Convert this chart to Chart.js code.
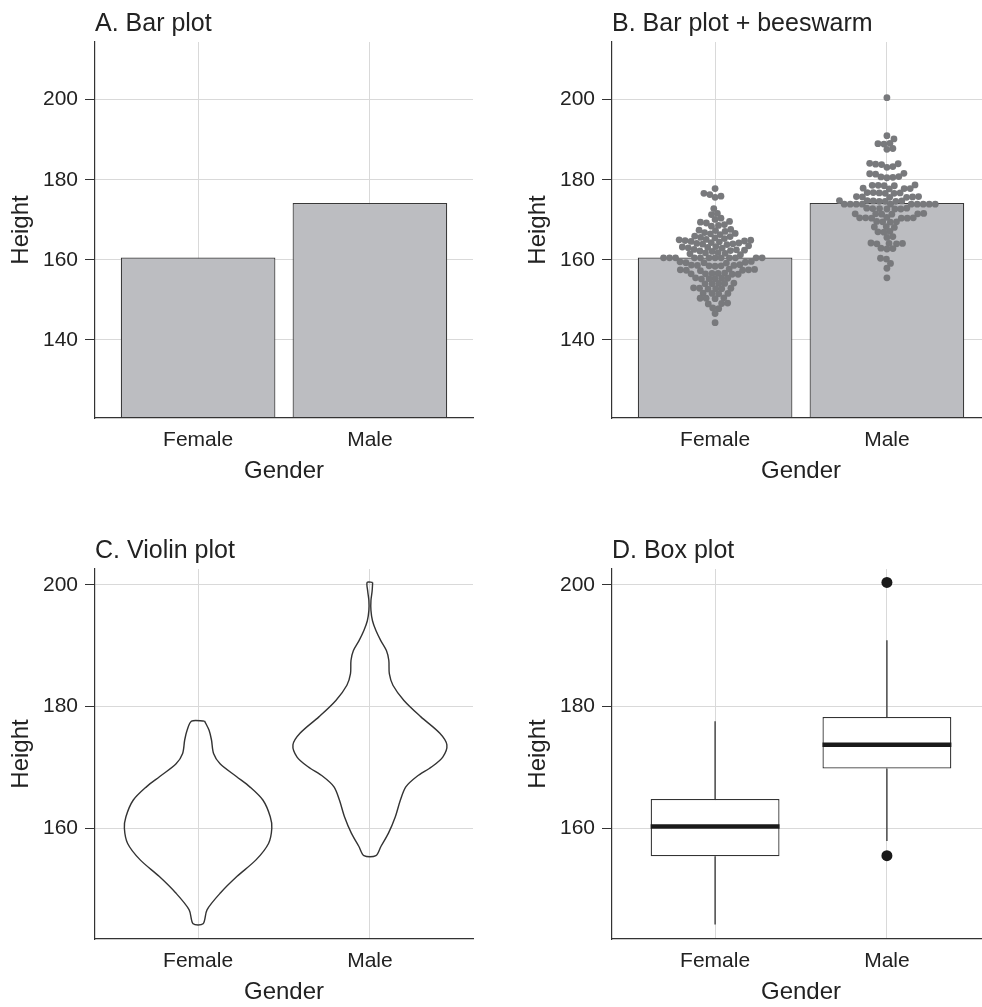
<!DOCTYPE html>
<html lang="en">
<head>
<meta charset="UTF-8">
<title>Height by gender</title>
<script src="https://cdn.jsdelivr.net/npm/chart.js"></script>
<style>
  html, body { margin: 0; padding: 0; background: #fff; }
  #page { position: relative; width: 982px; height: 1007px; overflow: hidden; }
  #page canvas { position: absolute; }
</style>
</head>
<body>
<div id="page">
  <canvas id="barChart" width="491" height="500" style="left:0;top:0"></canvas>
  <canvas id="swarmChart" width="491" height="500" style="left:517px;top:0"></canvas>
  <canvas id="violinChart" width="491" height="507" style="left:0;top:500px"></canvas>
  <canvas id="boxChart" width="491" height="507" style="left:517px;top:500px"></canvas>
</div>
<script>
// ---- data ----
const genders = ['Female', 'Male'];
const meanHeight = [160.6, 174.2];

const femaleHeights = [
  177.8, 176.6, 176.3, 175.9, 175.6,
  172.8, 171.6, 171.3, 170.4, 170.1,
  169.6, 169.4, 169.2, 168.8, 168.6, 168.4,
  167.6, 167.4, 167.3, 167.1, 166.8, 166.6, 166.5, 166.3,
  165.9, 165.8, 165.6, 165.5, 165.3,
  165.1, 165.0, 164.9, 164.8, 164.7, 164.6, 164.5,
  164.3, 164.2, 164.1, 164.0, 163.9, 163.8,
  163.5, 163.3, 163.2, 163.1, 163.0, 162.9,
  162.6, 162.5, 162.4, 162.3, 162.2, 162.1,
  161.8, 161.7, 161.6, 161.5, 161.3,
  160.5, 160.5, 160.5, 160.5, 160.5, 160.5, 160.5, 160.5, 160.5, 160.5, 160.5, 160.5,
  159.6, 159.5, 159.4, 159.3, 159.3, 159.2,
  158.8, 158.7, 158.6, 158.6, 158.5, 158.5, 158.4,
  157.7, 157.6, 157.5, 157.5, 157.4, 157.4, 157.3,
  156.7, 156.6, 156.6, 156.5, 156.5, 156.4, 156.4,
  155.5, 155.4, 155.4, 155.3, 155.3, 155.2,
  154.2, 154.1, 154.1, 154.0, 154.0,
  153.0, 152.9, 152.9, 152.8, 152.8, 152.7,
  151.7, 151.6, 151.6, 151.5,
  150.5, 150.4, 150.4, 150.3,
  149.2, 149.1, 149.0,
  148.0, 147.8,
  146.6,
  144.3
];

const maleHeights = [
  200.5,
  191.0, 190.2, 189.1, 189.0, 188.9, 187.8, 187.6,
  184.1, 184.0, 183.9, 183.8, 183.3, 183.1,
  181.6, 181.5, 181.4, 180.8, 180.7, 180.6, 180.5,
  178.7, 178.6, 178.6, 178.5, 178.5, 177.9, 177.8, 177.8, 177.7,
  176.8, 176.8, 176.7, 176.7, 176.6, 176.6,
  175.8, 175.8, 175.7, 175.7, 175.6, 175.6,
  174.8, 174.8, 174.7, 174.7, 174.6, 174.6, 174.6,
  173.9, 173.9, 173.9, 173.9, 173.9, 173.9, 173.9, 173.9, 173.9, 173.9,
  172.9, 172.9, 172.8, 172.8, 172.7, 172.7, 172.7,
  171.6, 171.5, 171.5, 171.5, 171.4, 171.4,
  170.6, 170.5, 170.5, 170.5, 170.4, 170.4, 170.4,
  169.6, 169.5, 169.5, 169.4,
  168.3, 168.2, 168.1,
  167.1, 167.0, 166.9,
  165.8, 165.6,
  164.2, 164.1, 164.1, 164.0, 164.0,
  162.9, 162.8, 162.7,
  160.4, 160.2,
  159.1,
  157.9,
  155.5
];

// violin outlines: height levels and half-width (in category units)
const violinFemaleLevels = [177.6, 176.1, 174.5, 172.3, 170.6, 168.5, 166.8, 164.6, 161.9, 160.0, 157.5, 154.8, 152.1, 149.4, 146.6, 144.3];
const violinFemaleWidth  = [0.038, 0.064, 0.078, 0.090, 0.128, 0.223, 0.301, 0.378, 0.420, 0.429, 0.410, 0.337, 0.227, 0.131, 0.052, 0.029];
const violinMaleLevels = [200.4, 199.0, 197.4, 195.8, 194.1, 192.5, 190.8, 189.2, 187.6, 185.4, 183.5, 181.0, 178.3, 175.6, 173.7, 171.7, 170.1, 168.5, 166.8, 164.6, 161.9, 159.2, 157.0, 155.5];
const violinMaleWidth  = [0.016, 0.013, 0.006, 0.006, 0.015, 0.035, 0.064, 0.096, 0.110, 0.113, 0.134, 0.198, 0.297, 0.407, 0.448, 0.424, 0.360, 0.273, 0.209, 0.177, 0.148, 0.108, 0.064, 0.035];

// box plot stats: lower whisker, Q1, median, Q3, upper whisker
const femaleBox = [144.2, 155.4, 160.3, 164.8, 177.6];
const maleBox = [157.9, 169.8, 173.7, 178.3, 190.9];
const outliers = [[], [155.5, 200.4]];

const barTicks = [140, 160, 180, 200];
const spreadTicks = [160, 180, 200];

// ---- styling ----
const FONT = "'Liberation Sans', Arial, Helvetica, sans-serif";
const INK = '#222';
const LINE = '#333';
const GRID = '#d9d9d9';
const BOX_WIDTH = 0.75;

const panelTitle = {
  id: 'panelTitle',
  afterDraw(chart, args, opts) {
    const { ctx, chartArea } = chart;
    ctx.save();
    ctx.fillStyle = INK;
    ctx.font = '25px ' + FONT;
    ctx.textAlign = 'left';
    ctx.textBaseline = 'alphabetic';
    ctx.fillText(opts.text, chartArea.left, chartArea.top - 11);
    ctx.restore();
  }
};
Chart.register(panelTitle);

function panelOptions(title, yMin, yMax, yTicks, topPad, bottomPad) {
  return {
    responsive: false,
    animation: false,
    events: [],
    layout: { padding: { top: topPad, right: 18, bottom: bottomPad, left: 0 } },
    plugins: { legend: { display: false }, tooltip: { enabled: false }, panelTitle: { text: title } },
    scales: {
      x: {
        type: 'linear', min: 0.4, max: 2.6, offset: false,
        afterBuildTicks: s => { s.ticks = genders.map((g, i) => ({ value: i + 1 })); },
        afterFit: s => { s.height = 66; },
        ticks: { callback: v => genders[v - 1], color: INK, padding: 10, autoSkip: false, maxRotation: 0,
                 font: { family: FONT, size: 21 } },
        grid: { color: GRID, lineWidth: 1, drawTicks: false, offset: false },
        border: { color: LINE, width: 1.2, z: 1 },
        title: { display: true, text: 'Gender', color: INK, font: { family: FONT, size: 24, lineHeight: 1 },
                 padding: { top: 0, bottom: 1 } }
      },
      y: {
        type: 'linear', min: yMin, max: yMax,
        afterBuildTicks: s => { s.ticks = yTicks.map(v => ({ value: v })); },
        afterFit: s => { s.width = 95; },
        ticks: { color: INK, padding: 7, font: { family: FONT, size: 21 } },
        grid: { color: GRID, lineWidth: 1, tickColor: LINE, tickLength: 10 },
        border: { color: LINE, width: 1.2, z: 1 },
        title: { display: true, text: 'Height', color: INK, font: { family: FONT, size: 24, lineHeight: 1 },
                 padding: { top: 9, bottom: 0 } }
      }
    }
  };
}

function barDataset() {
  return {
    type: 'bar', order: 2,
    data: genders.map((g, i) => ({ x: i + 1, y: meanHeight[i] })),
    backgroundColor: '#bcbdc1', borderColor: '#383838', borderWidth: 1.2,
    borderSkipped: false, barPercentage: 0.9, categoryPercentage: 1, clip: 0
  };
}

// A. bar plot
new Chart(document.getElementById('barChart'), {
  type: 'bar',
  data: { datasets: [barDataset()] },
  options: panelOptions('A. Bar plot', 120.5, 214.4, barTicks, 42, 16)
});

// B. bar plot + beeswarm
const swarmChart = new Chart(document.getElementById('swarmChart'), {
  type: 'bar',
  data: {
    datasets: [
      { type: 'scatter', order: 1, data: [], pointRadius: 3.4, backgroundColor: '#78797c', borderWidth: 0 },
      barDataset()
    ]
  },
  options: panelOptions('B. Bar plot + beeswarm', 120.5, 214.4, barTicks, 42, 16)
});

// lay points out side by side (in pixels) so they do not pile up
function beeswarm(values, centre, chart, gap) {
  const xs = chart.scales.x, ys = chart.scales.y;
  const unit = xs.getPixelForValue(2) - xs.getPixelForValue(1);
  const py = values.map(v => ys.getPixelForValue(v));
  const order = values.map((v, i) => i).sort((a, b) => values[a] - values[b]);
  const placed = [];
  const off = new Array(values.length).fill(0);
  order.forEach(i => {
    const y = py[i];
    const cands = [0];
    placed.forEach(p => {
      const dy = Math.abs(p.y - y);
      if (dy < gap) {
        const dx = Math.sqrt(gap * gap - dy * dy);
        cands.push(p.x + dx, p.x - dx);
      }
    });
    cands.sort((a, b) => Math.abs(a) - Math.abs(b));
    for (const c of cands) {
      const ok = placed.every(p => (p.x - c) ** 2 + (p.y - y) ** 2 >= gap * gap - 0.01);
      if (ok) { off[i] = c; placed.push({ x: c, y }); break; }
    }
  });
  return values.map((v, i) => ({ x: centre + off[i] / unit, y: v }));
}

swarmChart.data.datasets[0].data = [
  ...beeswarm(femaleHeights, 1, swarmChart, 6),
  ...beeswarm(maleHeights, 2, swarmChart, 6)
];
swarmChart.update('none');

// C. violin plot
function violinOutline(centre, levels, widths) {
  const right = levels.map((y, i) => ({ x: centre + widths[i], y }));
  const left = levels.map((y, i) => ({ x: centre - widths[i], y })).reverse();
  return [...right, ...left, right[0]];
}

const violinStyle = { type: 'line', borderColor: LINE, borderWidth: 1.4, pointRadius: 0, fill: false, tension: 0.3 };
new Chart(document.getElementById('violinChart'), {
  type: 'line',
  data: {
    datasets: [
      { ...violinStyle, data: violinOutline(1, violinFemaleLevels, violinFemaleWidth) },
      { ...violinStyle, data: violinOutline(2, violinMaleLevels, violinMaleWidth) }
    ]
  },
  options: panelOptions('C. Violin plot', 141.8, 202.6, spreadTicks, 69, 2)
});

// D. box plot
const boxes = [femaleBox, maleBox];
const whiskerPts = [];
const medianPts = [];
boxes.forEach((b, i) => {
  const c = i + 1;
  whiskerPts.push({ x: c, y: b[3] }, { x: c, y: b[4] }, { x: c, y: null },
                  { x: c, y: b[1] }, { x: c, y: b[0] }, { x: c, y: null });
  medianPts.push({ x: c - BOX_WIDTH / 2, y: b[2] }, { x: c + BOX_WIDTH / 2, y: b[2] }, { x: c, y: null });
});
const outlierPts = [];
outliers.forEach((list, i) => list.forEach(v => outlierPts.push({ x: i + 1, y: v })));

new Chart(document.getElementById('boxChart'), {
  type: 'bar',
  data: {
    datasets: [
      { type: 'scatter', order: 0, data: outlierPts, pointRadius: 5.5, backgroundColor: '#1a1a1a', borderWidth: 0 },
      { type: 'line', order: 1, data: medianPts, borderColor: '#1a1a1a', borderWidth: 4.5, pointRadius: 0,
        spanGaps: false, borderCapStyle: 'butt' },
      { type: 'bar', order: 3, data: boxes.map((b, i) => ({ x: i + 1, y: [b[1], b[3]] })),
        backgroundColor: '#ffffff', borderColor: LINE, borderWidth: 1.3, borderSkipped: false,
        barPercentage: BOX_WIDTH, categoryPercentage: 1 },
      { type: 'line', order: 4, data: whiskerPts, borderColor: LINE, borderWidth: 1.3, pointRadius: 0,
        spanGaps: false }
    ]
  },
  options: panelOptions('D. Box plot', 141.8, 202.6, spreadTicks, 69, 2)
});
</script>
</body>
</html>
